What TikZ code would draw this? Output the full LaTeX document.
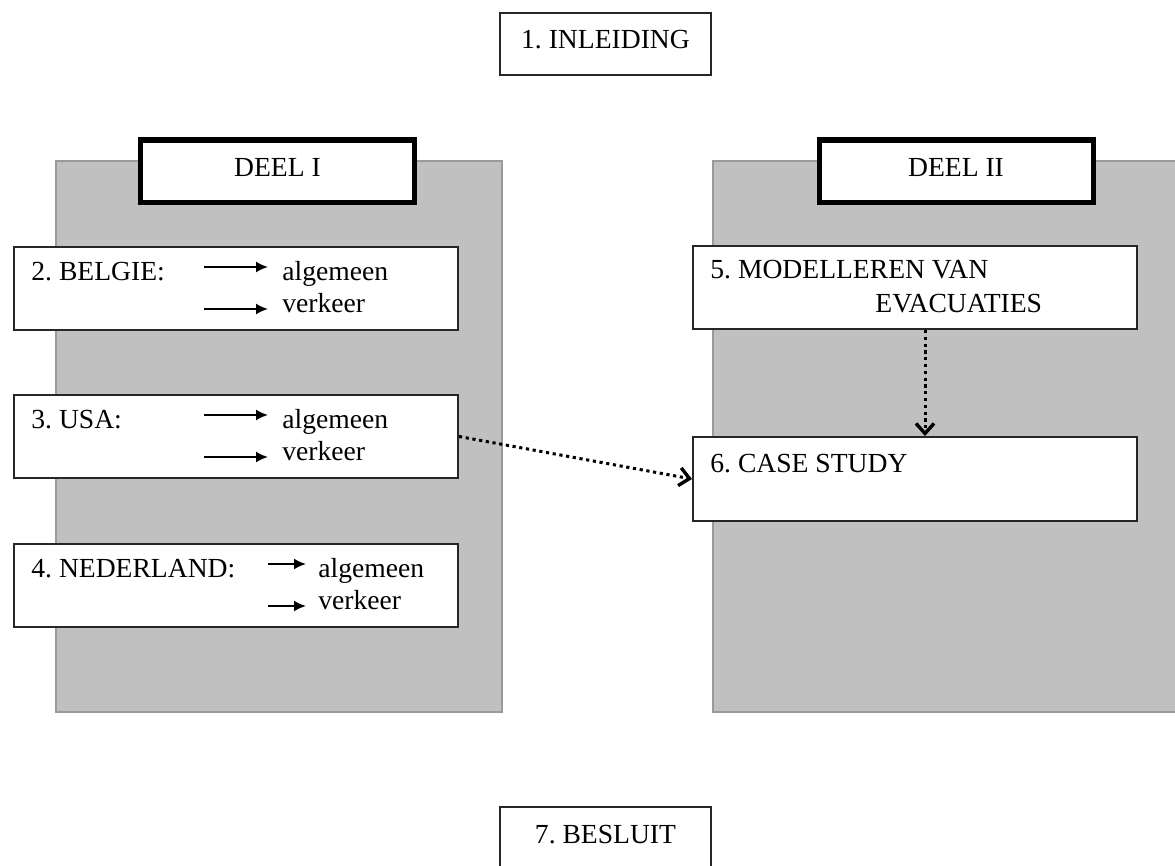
\documentclass[tikz,border=0pt]{standalone}
\usepackage{fontspec}
\setmainfont{Liberation Serif}
\usetikzlibrary{arrows.meta,fit}
\definecolor{panelfill}{HTML}{C0C0C0}
\definecolor{paneledge}{HTML}{9A9A9A}
\tikzset{
  panel/.style={draw=paneledge, line width=0.6pt, fill=panelfill, inner sep=0pt},
  box/.style={draw=black!85, line width=1pt, fill=white, inner sep=0pt},
  partbox/.style={draw=black, line width=2.6pt, fill=white, inner sep=0pt},
  txt/.style={inner sep=0pt, font=\fontsize{13.8}{16}\selectfont\frenchspacing},
  lbl/.style={txt, anchor=base west},
  ctr/.style={txt, anchor=base},
  subarrow/.style={line width=0.9pt, -{Latex[length=6pt,width=5.5pt]}},
  flow/.style={line width=1.5pt, dash pattern=on 1.6pt off 1.8pt,
    -{Straight Barb[length=5pt,width=9pt,line width=1.7pt]}}
}
\begin{document}
\begin{tikzpicture}[x=0.5pt,y=-0.5pt]
\useasboundingbox (0,0) rectangle (1175,866);
\fill[white] (0,0) rectangle (1175,866);

% introduction and conclusion
\node[box, fit={(500,13) (711,75)}] (intro) {};
\node[ctr] (introtxt) at (605.5,49) {1. INLEIDING};
\node[box, fit={(500,807) (711,900)}] (concl) {};
\node[ctr] (concltxt) at (605.5,843) {7. BESLUIT};

% the two parts
\node[panel, fit={(56,161) (502,712)}] (p1) {};
\node[panel, fit={(713,161) (1190,712)}] (p2) {};
\node[partbox, fit={(140.5,140) (414.5,202.5)}] (d1) {};
\node[ctr] (d1txt) at (277.5,177) {DEEL I};
\node[partbox, fit={(819.5,140) (1093.5,202.5)}] (d2) {};
\node[ctr] (d2txt) at (956,177) {DEEL II};

% part I: countries, each split into general and traffic
\foreach \n/\y/\xa/\xb/\xt/\lab in {
    belgie/246/204/268/282/{2. BELGIE:},
    usa/394/204/268/282/{3. USA:},
    ned/543/268/306/318/{4. NEDERLAND:}} {
  \node[box, fit={(14,\y+1) (458,\y+84)}] (\n) {};
  \node[lbl] (\n-lab) at (31,\y+35) {\lab};
  \node[lbl] (\n-alg) at (\xt,\y+35) {algemeen};
  \node[lbl] (\n-ver) at (\xt,\y+67) {verkeer};
  \coordinate (\n-a1) at (\xa,\y+21);
  \coordinate (\n-b1) at (\xb,\y+21);
  \coordinate (\n-a2) at (\xa,\y+63);
  \coordinate (\n-b2) at (\xb,\y+63);
  \draw[subarrow] (\n-a1) -- (\n-b1);
  \draw[subarrow] (\n-a2) -- (\n-b2);
}

% part II
\node[box, fit={(693,246) (1137,329)}] (model) {};
\node[lbl] (modeltxt1) at (710,279) {5. MODELLEREN VAN};
\node[lbl] (modeltxt2) at (875,313) {EVACUATIES};
\node[box, fit={(693,437) (1137,521)}] (case) {};
\node[lbl] (casetxt) at (710,473) {6. CASE STUDY};

% dependencies
\draw[flow] (usa.east) -- (case.west);
\draw[flow] ([xshift=5pt]model.south) -- ([xshift=5pt]case.north);
\end{tikzpicture}
\end{document}
